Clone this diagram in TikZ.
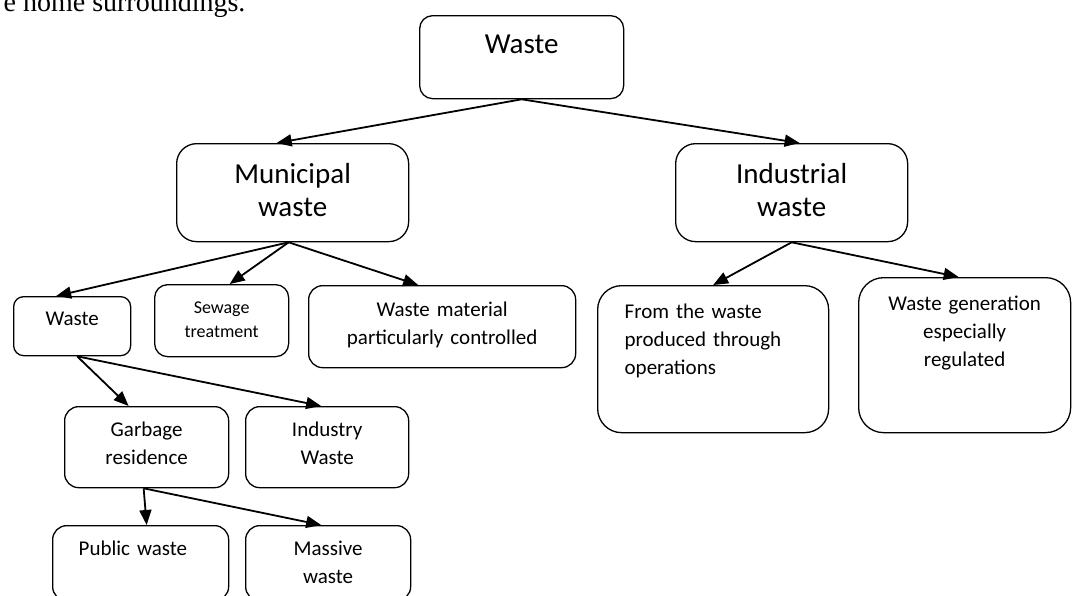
\documentclass[tikz,border=0pt]{standalone}
\usepackage{fontspec}
\setmainfont{Carlito}
\newfontfamily\timesfont{Liberation Serif}
\usetikzlibrary{arrows.meta}
\tikzstyle{box}=[draw, line width=1.3pt, rounded corners=13pt, inner sep=0pt, align=center, anchor=north west]
\tikzstyle{big}=[font=\fontsize{29}{33}\selectfont]
\tikzstyle{mid}=[font=\fontsize{21}{28}\selectfont]
\tikzstyle{sml}=[font=\fontsize{18}{24}\selectfont]
\tikzstyle{arr}=[line width=1.8pt, -{Triangle[length=15pt,width=12pt]}]

\begin{document}
\begin{tikzpicture}[x=1pt,y=-1pt]
\useasboundingbox (0,0) rectangle (1073,595);

\node[anchor=base east, font=\timesfont\fontsize{28}{30}\selectfont] (intro) at (249,11) {e home surroundings.};

% level 1 and 2
\node[box, big, text width=204pt, text height=38pt, text depth=45pt] (waste) at (419,15) {Waste};
\node[box, big, rounded corners=20pt, text width=232pt, text height=40pt, text depth=58pt] (mun) at (176,143) {Municipal\\waste};
\node[box, big, rounded corners=20pt, text width=232pt, text height=40pt, text depth=58pt] (ind) at (675,143) {Industrial\\waste};

% under municipal
\node[box, mid, rounded corners=10pt, text width=117pt, text height=29pt, text depth=30pt] (lw) at (13,296) {Waste};
\node[box, sml, text width=134pt, text height=29pt, text depth=43pt] (sew) at (154,284) {Sewage\\treatment};
\node[box, mid, rounded corners=14pt, text width=267pt, text height=31pt, text depth=51pt] (mat) at (308,285) {Waste material\\particularly controlled};

% under industrial
\node[box, mid, rounded corners=24pt, align=left, inner xsep=27pt, text width=177pt, text height=33pt, text depth=114pt] (from) at (597,285) {From the waste\\produced through\\operations};
\node[box, mid, rounded corners=25pt, text width=212pt, text height=33pt, text depth=122pt] (gen) at (858,277) {Waste generation\\especially\\regulated};

% under waste
\node[box, mid, rounded corners=14pt, text width=164pt, text height=30pt, text depth=51pt] (gar) at (64,406) {Garbage\\residence};
\node[box, mid, rounded corners=14pt, text width=163pt, text height=30pt, text depth=51pt] (indw) at (245,406) {Industry\\Waste};
\node[box, mid, rounded corners=14pt, align=left, inner xsep=26pt, text width=124pt, text height=30pt, text depth=45pt] (pub) at (52,525) {Public waste};
\node[box, mid, rounded corners=14pt, text width=165pt, text height=30pt, text depth=45pt] (mas) at (245,525) {Massive\\waste};

\draw[arr] (waste.south) -- ([xshift=-16pt]mun.north);
\draw[arr] (waste.south) -- ([xshift=8pt]ind.north);

\draw[arr] ([xshift=-4pt]mun.south) -- ([xshift=-16pt]lw.north);
\draw[arr] ([xshift=-4pt]mun.south) -- ([xshift=8pt]sew.north);
\draw[arr] ([xshift=-4pt]mun.south) -- ([xshift=-24pt]mat.north);

\draw[arr] (ind.south) -- (from.north);
\draw[arr] (ind.south) -- ([xshift=-6pt]gen.north);

\draw[arr] ([xshift=5pt]lw.south) -- ([xshift=-18pt]gar.north);
\draw[arr] ([xshift=5pt]lw.south) -- ([xshift=-6pt]indw.north);

\draw[arr] ([xshift=-3pt]gar.south) -- ([xshift=0pt]gar.south |- pub.north);
\draw[arr] ([xshift=-3pt]gar.south) -- ([xshift=-7pt]mas.north);

\end{tikzpicture}
\end{document}
